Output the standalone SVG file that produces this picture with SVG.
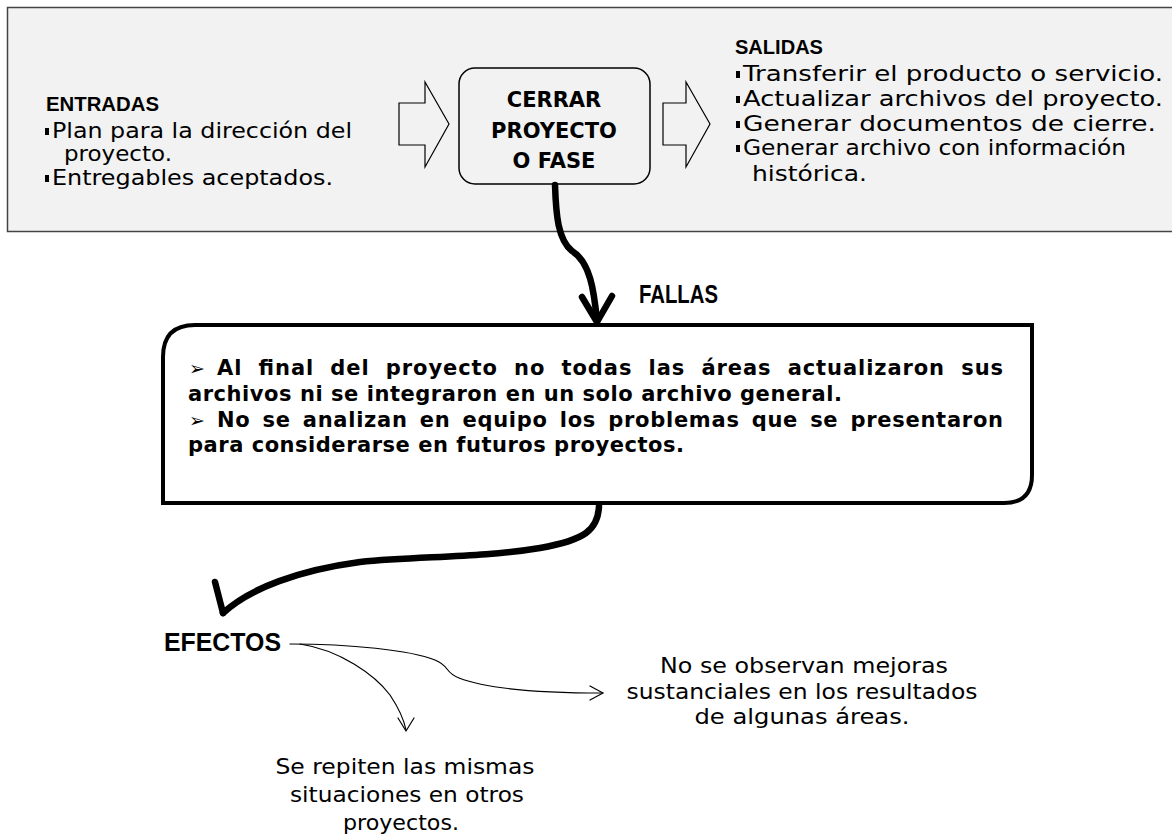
<svg xmlns="http://www.w3.org/2000/svg" width="1172" height="840" viewBox="0 0 1172 840">
<style>
.hdr{font-family:"Liberation Sans Narrow","Liberation Sans",sans-serif;font-weight:bold;fill:#000}
.reg{font-family:"DejaVu Sans","Liberation Sans",sans-serif;font-size:20.5px;fill:#000}
.box{font-family:"DejaVu Sans","Liberation Sans",sans-serif;font-weight:bold;font-size:21px;fill:#000}
.fal{font-family:"DejaVu Sans","Liberation Sans",sans-serif;font-weight:bold;font-size:21px;fill:#000}
.sym{font-family:"DejaVu Sans",sans-serif;font-size:19px;fill:#000}
.thick{fill:none;stroke:#000;stroke-width:6.5;stroke-linecap:round;stroke-linejoin:round}
.thin{fill:none;stroke:#000;stroke-width:1.2;stroke-linecap:round;stroke-linejoin:round}
.blk{fill:#f2f2f2;stroke:#000;stroke-width:1.2}
</style>
<rect width="1172" height="840" fill="#fff"/>
<g id="panel">
<rect x="7.5" y="7.5" width="1180" height="224" fill="#f2f2f2" stroke="#444" stroke-width="1.5"/>
</g>
<g id="entradas">
<text class="hdr" x="46" y="111" font-size="20" textLength="113" lengthAdjust="spacingAndGlyphs">ENTRADAS</text>
<rect x="45" y="128" width="4" height="7"/>
<text class="reg" x="52" y="138" textLength="300" lengthAdjust="spacingAndGlyphs">Plan para la dirección del</text>
<text class="reg" x="64" y="161" textLength="108" lengthAdjust="spacingAndGlyphs">proyecto.</text>
<rect x="45" y="175" width="4" height="7"/>
<text class="reg" x="52" y="185" textLength="281" lengthAdjust="spacingAndGlyphs">Entregables aceptados.</text>
</g>
<g id="arrow-in">
<path class="blk" d="M399,103 H425 V82 L449,124 L425,167 V145 H399 Z"/>
</g>
<g id="cerrar">
<rect x="459" y="68" width="191" height="116" rx="16" fill="#f2f2f2" stroke="#000" stroke-width="1.5"/>
<text class="box" x="554" y="107" text-anchor="middle">CERRAR</text>
<text class="box" x="554" y="138" text-anchor="middle">PROYECTO</text>
<text class="box" x="554" y="168" text-anchor="middle">O FASE</text>
</g>
<g id="arrow-out">
<path class="blk" d="M663,103 H686 V82 L710,124 L686,167 V145 H663 Z"/>
</g>
<g id="salidas">
<text class="hdr" x="735" y="54" font-size="20" textLength="88" lengthAdjust="spacingAndGlyphs">SALIDAS</text>
<rect x="736" y="71" width="4" height="7"/>
<text class="reg" x="743" y="81" textLength="420" lengthAdjust="spacingAndGlyphs">Transferir el producto o servicio.</text>
<rect x="736" y="96" width="4" height="7"/>
<text class="reg" x="743" y="106" textLength="420" lengthAdjust="spacingAndGlyphs">Actualizar archivos del proyecto.</text>
<rect x="736" y="121" width="4" height="7"/>
<text class="reg" x="743" y="131" textLength="413" lengthAdjust="spacingAndGlyphs">Generar documentos de cierre.</text>
<rect x="736" y="145" width="4" height="7"/>
<text class="reg" x="743" y="155" textLength="383" lengthAdjust="spacingAndGlyphs">Generar archivo con información</text>
<text class="reg" x="752" y="181" textLength="115" lengthAdjust="spacingAndGlyphs">histórica.</text>
</g>
<g id="fallas-label">
<text class="hdr" x="639" y="303" font-size="26" textLength="79" lengthAdjust="spacingAndGlyphs">FALLAS</text>
</g>
<g id="fallas">
<path d="M195,325 H1032 V475 Q1032,503 1004,503 H163 V357 Q163,325 195,325 Z" fill="#fff" stroke="#000" stroke-width="4"/>
<text class="sym" x="189" y="375">➢</text>
<text class="fal" x="217" y="375" word-spacing="8" textLength="786" lengthAdjust="spacing">Al final del proyecto no todas las áreas actualizaron sus</text>
<text class="fal" x="188" y="401" textLength="654" lengthAdjust="spacing">archivos ni se integraron en un solo archivo general.</text>
<text class="sym" x="189" y="427">➢</text>
<text class="fal" x="217" y="427" word-spacing="4" textLength="786" lengthAdjust="spacing">No se analizan en equipo los problemas que se presentaron</text>
<text class="fal" x="188" y="452" textLength="496" lengthAdjust="spacing">para considerarse en futuros proyectos.</text>
</g>
<g id="efectos">
<text class="hdr" x="164" y="651" font-size="26" textLength="117" lengthAdjust="spacingAndGlyphs">EFECTOS</text>
</g>
<g id="efecto-1">
<text class="reg" x="405" y="774" text-anchor="middle" textLength="259" lengthAdjust="spacingAndGlyphs">Se repiten las mismas</text>
<text class="reg" x="407" y="802" text-anchor="middle" textLength="234" lengthAdjust="spacingAndGlyphs">situaciones en otros</text>
<text class="reg" x="401" y="830" text-anchor="middle" textLength="116" lengthAdjust="spacingAndGlyphs">proyectos.</text>
</g>
<g id="efecto-2">
<text class="reg" x="804" y="673" text-anchor="middle" textLength="288" lengthAdjust="spacingAndGlyphs">No se observan mejoras</text>
<text class="reg" x="802" y="699" text-anchor="middle" textLength="351" lengthAdjust="spacingAndGlyphs">sustanciales en los resultados</text>
<text class="reg" x="802" y="724" text-anchor="middle" textLength="215" lengthAdjust="spacingAndGlyphs">de algunas áreas.</text>
</g>
<g id="connectors">
<path class="thick" d="M555,185 C556,215 558,240 572,251 C590,262 594,290 597,321"/>
<path class="thick" d="M582,297 L597,322 L612,296"/>
<path class="thick" d="M599,506 C598,530 585,540 540,548 C480,558 420,556 360,562 C300,570 250,588 223,613"/>
<path class="thick" d="M215,582 L223,613"/>
<path class="thin" d="M290,644 C350,644 410,650 435,660 C450,666 444,672 459,678 C490,690 550,693 603,693"/>
<path class="thin" d="M590,686 L603,693 L590,700"/>
<path class="thin" d="M300,644 C340,650 375,675 390,695 C400,710 404,720 406,730"/>
<path class="thin" d="M398,718 L406,731 L414,718"/>
</g>
</svg>
